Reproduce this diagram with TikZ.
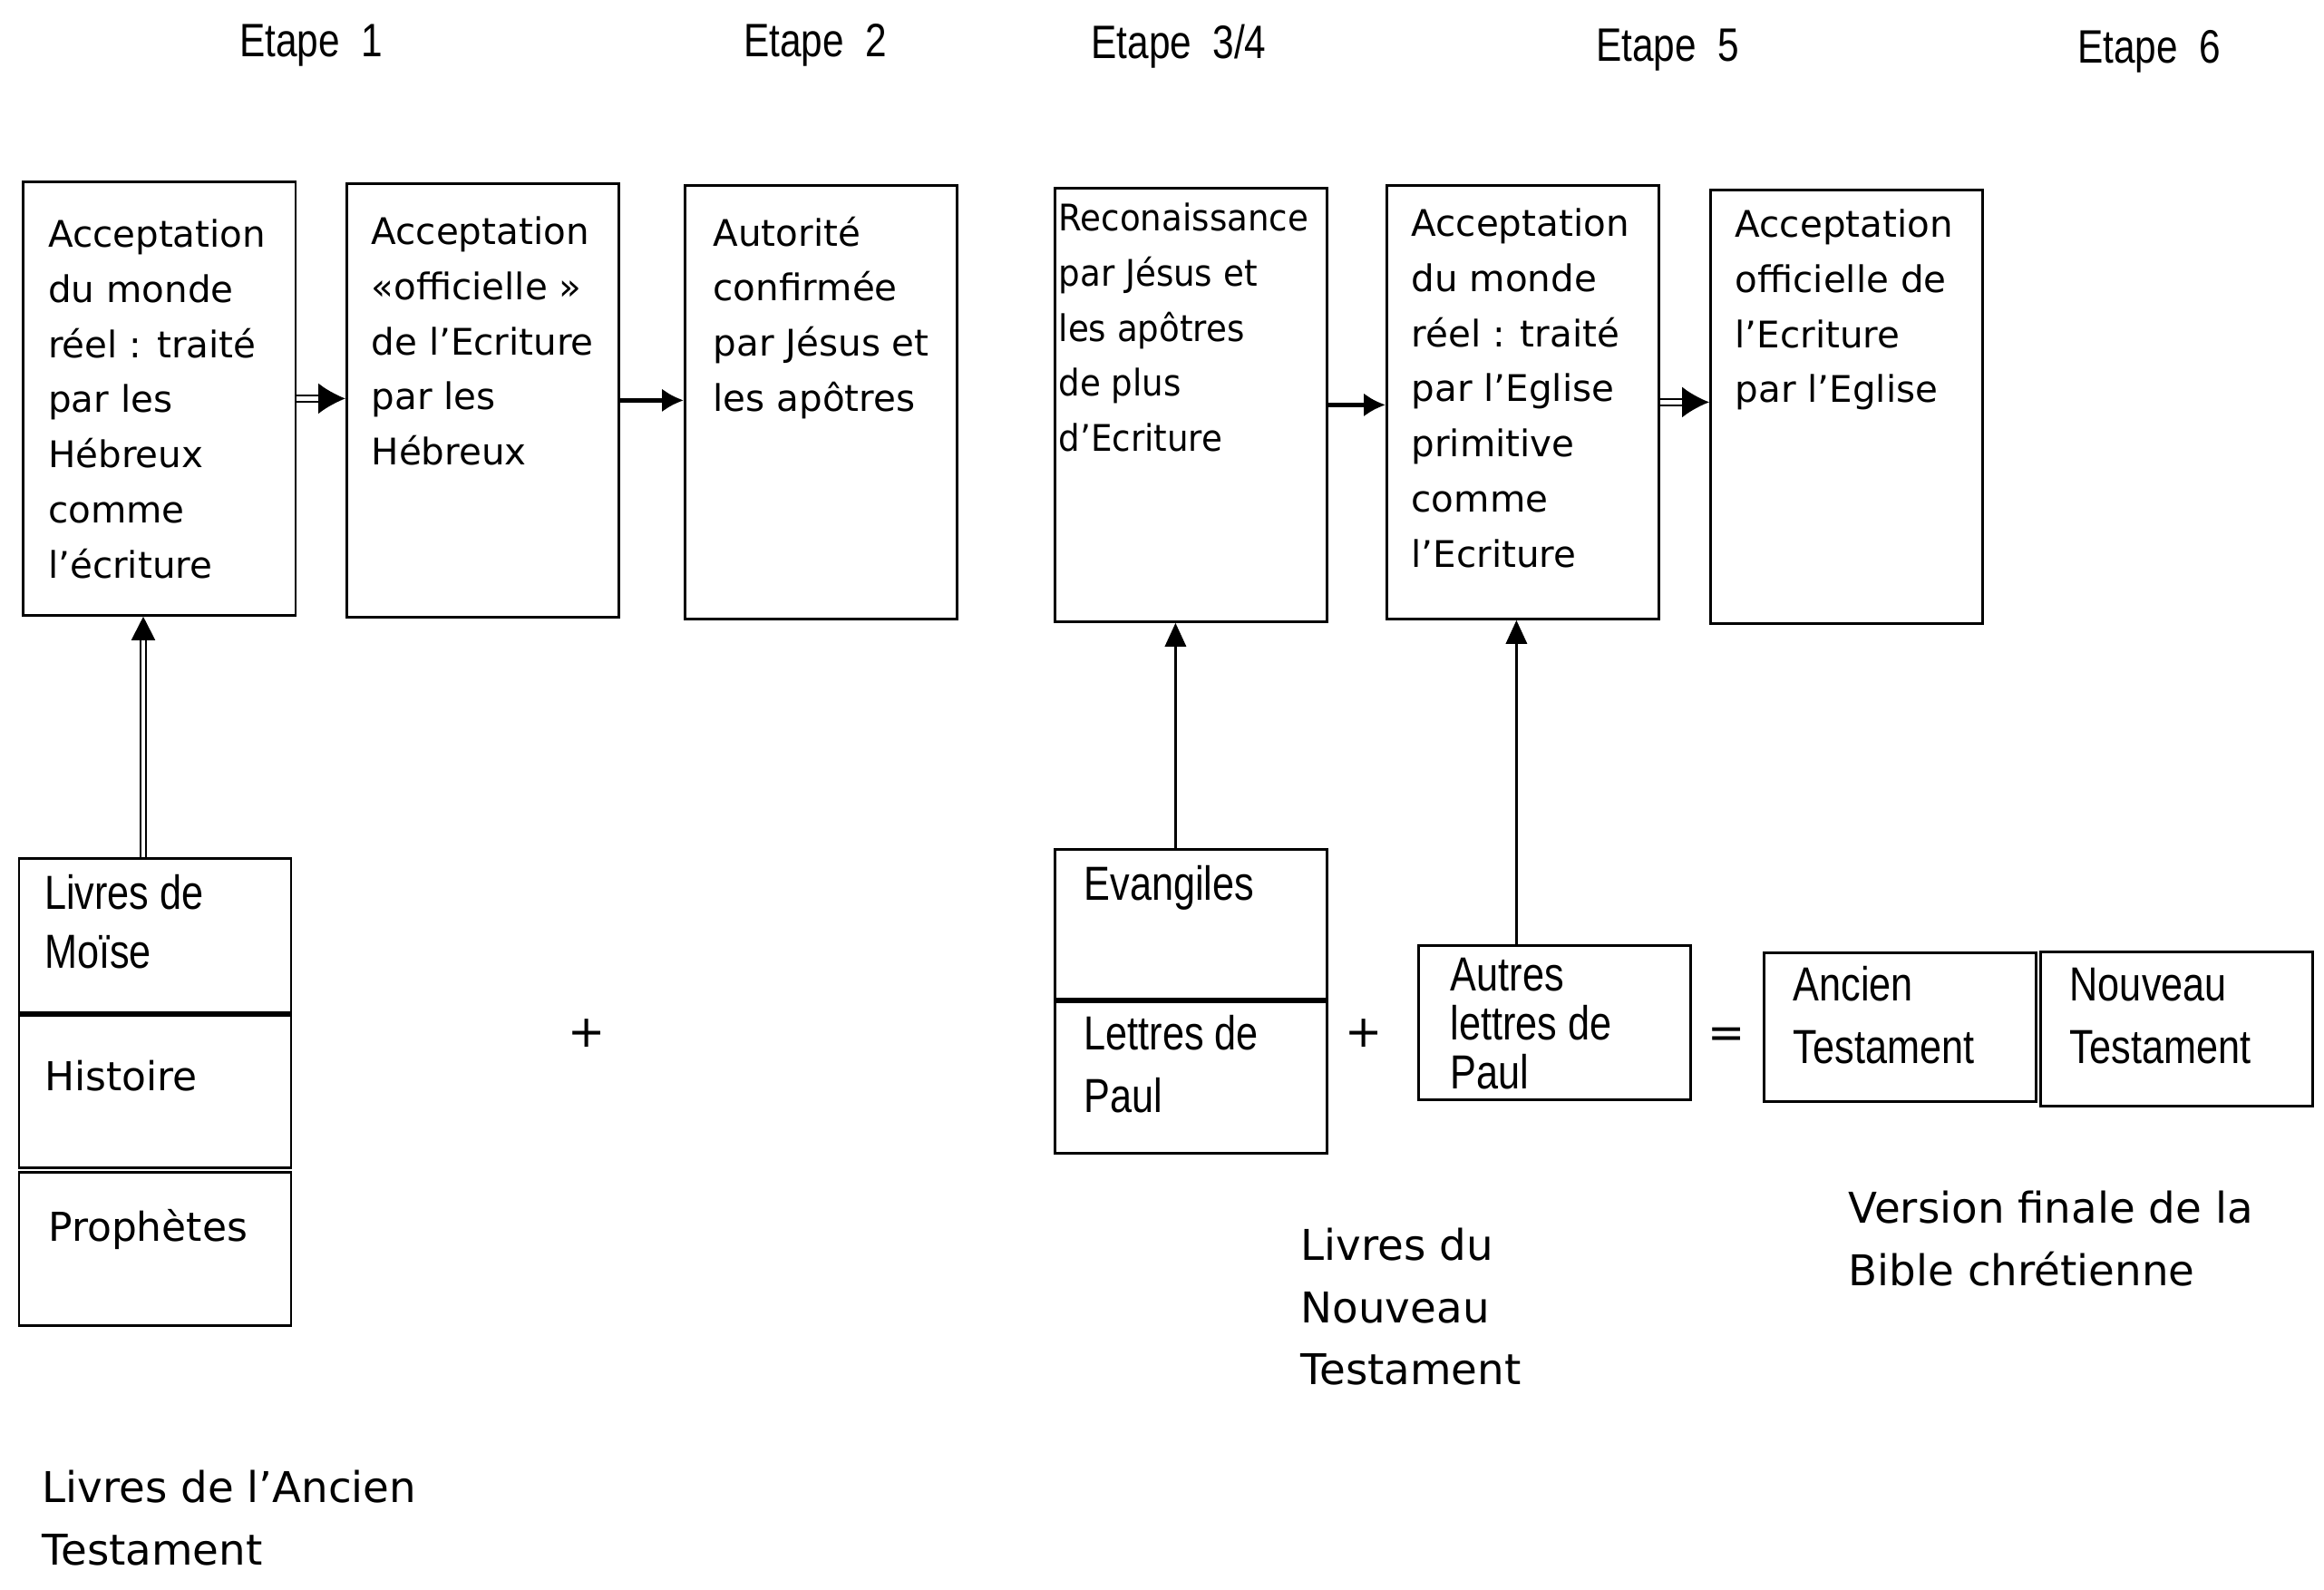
\documentclass[tikz,border=0pt]{standalone}
\usepackage{fontspec}
\setmainfont{DejaVu Sans}
\newfontfamily\narrowfont[FakeStretch=0.82]{Liberation Sans}
\newfontfamily\semicondfont[FakeStretch=0.92]{DejaVu Sans}
\usetikzlibrary{positioning,arrows.meta}

\tikzset{
  block/.style={draw, line width=0.8pt, inner sep=0pt, anchor=north west, minimum width=3cm},
  tallBlock/.style={block, minimum height=4.78cm},
  blockText/.style={inner sep=0pt, align=left, font=\fontsize{11.5}{17.3}\selectfont},
  narrowText/.style={inner sep=0pt, align=left, font=\narrowfont\fontsize{15}{18.5}\selectfont},
  wideText/.style={inner sep=0pt, align=left, font=\fontsize{12.5}{18}\selectfont},
  header/.style={inner sep=0pt, anchor=base, font=\narrowfont\fontsize{14.7}{17}\selectfont},
  caption/.style={inner sep=0pt, align=left, anchor=north west, font=\fontsize{13.3}{19.6}\selectfont},
  sign/.style={inner sep=0pt, font=\fontsize{14}{16}\selectfont},
  oneArrow/.style={line width=1.2pt, -{Latex[length=2.4mm,width=2.6mm]}},
  dblArrow/.style={double, double distance=1.3pt, line width=0.6pt, -{Latex[length=3mm,width=3.4mm]}},
  upArrow/.style={line width=0.9pt, -{Triangle[length=2.6mm,width=2.3mm]}},
  upDblArrow/.style={double, double distance=1.1pt, line width=0.6pt, -{Triangle[length=2.6mm,width=2.6mm]}}
}

\begin{document}
\begin{tikzpicture}
  \useasboundingbox (0,0) rectangle (25.63,-17.53);
  % Etapes
  \node[header] (etapeA) at (3.43,-0.63) {Etape\ \ 1};
  \node[header] (etapeB) at (8.99,-0.63) {Etape\ \ 2};
  \node[header] (etapeC) at (13.0,-0.65) {Etape\ \ 3/4};
  \node[header] (etapeD) at (18.39,-0.68) {Etape\ \ 5};
  \node[header] (etapeE) at (23.70,-0.70) {Etape\ \ 6};
  % Top row
  \node[tallBlock] (accHebreux) at (0.245,-1.99) {};
  \node[tallBlock] (accOfficielle) at (3.81,-2.01) {};
  \node[tallBlock] (autorite) at (7.54,-2.03) {};
  \node[tallBlock] (reconnaissance) at (11.62,-2.06) {};
  \node[tallBlock] (accEglise) at (15.28,-2.03) {};
  \node[tallBlock] (accFinale) at (18.85,-2.08) {};
  \node[blockText, below right=0.42cm and 0.28cm of accHebreux.north west] (accHebreuxTxt)
    {Acceptation\\du monde\\réel : traité\\par les\\Hébreux\\comme\\l’écriture};
  \node[blockText, below right=0.37cm and 0.28cm of accOfficielle.north west] (accOfficielleTxt)
    {Acceptation\\«officielle »\\de l’Ecriture\\par les\\Hébreux};
  \node[blockText, below right=0.35cm and 0.32cm of autorite.north west] (autoriteTxt)
    {Autorité\\confirmée\\par Jésus et\\les apôtres};
  \node[blockText, font=\semicondfont\fontsize{11.5}{17.3}\selectfont,
    below right=0.17cm and 0.05cm of reconnaissance.north west] (reconnaissanceTxt)
    {Reconaissance\\par Jésus et\\les apôtres\\de plus\\d’Ecriture};
  \node[blockText, below right=0.26cm and 0.28cm of accEglise.north west] (accEgliseTxt)
    {Acceptation\\du monde\\réel : traité\\par l’Eglise\\primitive\\comme\\l’Ecriture};
  \node[blockText, below right=0.22cm and 0.28cm of accFinale.north west] (accFinaleTxt)
    {Acceptation\\officielle de\\l’Ecriture\\par l’Eglise};
  % Ancien Testament
  \node[block, minimum height=1.70cm] (moise) at (0.196,-9.45) {};
  \node[block, minimum height=1.68cm] (histoire) at (0.196,-11.18) {};
  \node[block, minimum height=1.69cm] (prophetes) at (0.196,-12.91) {};
  \node[narrowText, below right=0.19cm and 0.29cm of moise.north west] (moiseTxt) {Livres de\\Moïse};
  \node[wideText, below right=0.50cm and 0.29cm of histoire.north west] (histoireTxt) {Histoire};
  \node[wideText, below right=0.42cm and 0.33cm of prophetes.north west] (prophetesTxt) {Prophètes};
  \node[sign] (plusA) at (6.47,-11.39) {+};
  \node[caption] (livresAT) at (0.46,-16.20) {Livres de l’Ancien\\Testament};
  % Nouveau Testament
  \node[block, minimum height=1.65cm] (evangiles) at (11.62,-9.35) {};
  \node[block, minimum height=1.67cm] (lettresPaul) at (11.62,-11.03) {};
  \node[block, minimum height=1.70cm] (autresLettres) at (15.63,-10.41) {};
  \node[narrowText, below right=0.19cm and 0.33cm of evangiles.north west] (evangilesTxt) {Evangiles};
  \node[narrowText, font=\narrowfont\fontsize{15}{19.5}\selectfont,
    below right=0.16cm and 0.33cm of lettresPaul.north west] (lettresPaulTxt) {Lettres de\\Paul};
  \node[narrowText, font=\narrowfont\fontsize{15}{15.3}\selectfont,
    below right=0.15cm and 0.36cm of autresLettres.north west] (autresLettresTxt) {Autres\\lettres de\\Paul};
  \node[sign] (plusB) at (15.04,-11.39) {+};
  \node[caption] (livresNT) at (14.34,-13.53) {Livres du\\Nouveau\\Testament};
  % Bible
  \node[sign] (egal) at (19.04,-11.44) {=};
  \node[block, minimum height=1.64cm] (ancienT) at (19.44,-10.49) {};
  \node[block, minimum height=1.70cm] (nouveauT) at (22.49,-10.48) {};
  \node[narrowText, font=\narrowfont\fontsize{15}{19.5}\selectfont,
    below right=0.16cm and 0.33cm of ancienT.north west] (ancienTxt) {Ancien\\Testament};
  \node[narrowText, font=\narrowfont\fontsize{15}{19.5}\selectfont,
    below right=0.19cm and 0.33cm of nouveauT.north west] (nouveauTxt) {Nouveau\\Testament};
  \node[caption] (versionFinale) at (20.38,-13.12) {Version finale de la\\Bible chrétienne};
  % Arrows
  \draw[dblArrow] (accHebreux.east) -- (accHebreux.east -| accOfficielle.west);
  \draw[oneArrow] (accOfficielle.east) -- (accOfficielle.east -| autorite.west);
  \draw[oneArrow] (reconnaissance.east) -- (reconnaissance.east -| accEglise.west);
  \draw[dblArrow] (accEglise.east) -- (accEglise.east -| accFinale.west);
  \draw[upDblArrow] ([xshift=-0.13cm]moise.north) -- ([xshift=-0.13cm]moise.north |- accHebreux.south);
  \draw[upArrow] ([xshift=-0.17cm]evangiles.north) -- ([xshift=-0.17cm]evangiles.north |- reconnaissance.south);
  \draw[upArrow] ([xshift=-0.42cm]autresLettres.north) -- ([xshift=-0.42cm]autresLettres.north |- accEglise.south);
\end{tikzpicture}
\end{document}
